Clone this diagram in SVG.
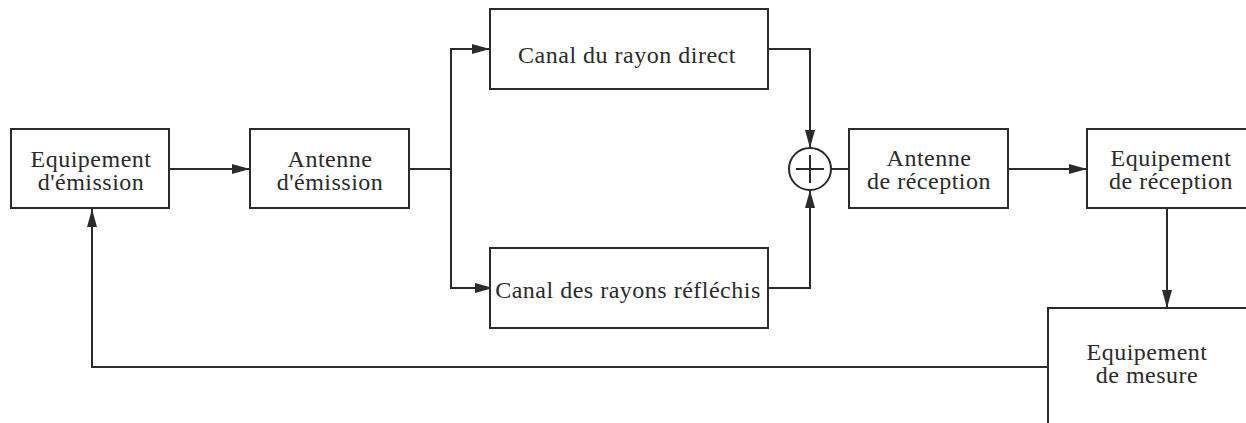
<svg xmlns="http://www.w3.org/2000/svg" width="1246" height="423" viewBox="0 0 1246 423">
<style>
.box{fill:#fff;stroke:#2b2b2b;stroke-width:2}
.ln{fill:none;stroke:#2b2b2b;stroke-width:2}
text{font-family:"Liberation Serif","Times New Roman",serif;font-size:24px;letter-spacing:0.5px;fill:#2b2b2b;text-anchor:middle}
</style>
<defs>
<marker id="ah" viewBox="0 0 18 10" refX="18" refY="5" markerWidth="18" markerHeight="10" markerUnits="userSpaceOnUse" orient="auto">
<path d="M0,0 L18,5 L0,10 Z" fill="#2b2b2b"/>
</marker>
</defs>
<g id="connectors">
<path class="ln" d="M170,169 H250" marker-end="url(#ah)"/>
<path class="ln" d="M409,169 H451 V49 H490" marker-end="url(#ah)"/>
<path class="ln" d="M451,169 V288 H493" marker-end="url(#ah)"/>
<path class="ln" d="M768,49 H810 V148" marker-end="url(#ah)"/>
<path class="ln" d="M768,288 H810 V190" marker-end="url(#ah)"/>
<path class="ln" d="M831,169 H849"/>
<path class="ln" d="M1008,169 H1087" marker-end="url(#ah)"/>
<path class="ln" d="M1167,208 V308" marker-end="url(#ah)"/>
<path class="ln" d="M1048,367 H92 V209" marker-end="url(#ah)"/>
</g>
<g id="equip-emission">
<rect class="box" x="11" y="129" width="158" height="79"/>
<text x="91" y="167">Equipement</text>
<text x="91" y="190">d'émission</text>
</g>
<g id="antenne-emission">
<rect class="box" x="250" y="129" width="159" height="79"/>
<text x="330" y="167">Antenne</text>
<text x="330" y="190">d'émission</text>
</g>
<g id="canal-direct">
<rect class="box" x="490" y="9" width="278" height="80"/>
<text x="627" y="63">Canal du rayon direct</text>
</g>
<g id="canal-reflechis">
<rect class="box" x="490" y="248" width="278" height="80"/>
<text x="628" y="298">Canal des rayons réfléchis</text>
</g>
<g id="sommateur">
<circle class="ln" cx="810" cy="169" r="21"/>
<path class="ln" d="M796,169 H824 M810,155 V183"/>
</g>
<g id="antenne-reception">
<rect class="box" x="849" y="129" width="159" height="79"/>
<text x="929" y="166">Antenne</text>
<text x="929" y="189">de réception</text>
</g>
<g id="equip-reception">
<rect class="box" x="1087" y="129" width="170" height="79"/>
<text x="1171" y="166">Equipement</text>
<text x="1171" y="189">de réception</text>
</g>
<g id="equip-mesure">
<rect class="box" x="1048" y="308" width="220" height="130"/>
<text x="1147" y="360">Equipement</text>
<text x="1147" y="383">de mesure</text>
</g>
</svg>
